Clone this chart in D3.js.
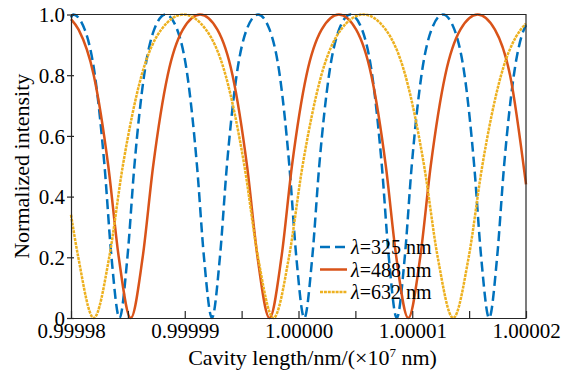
<!DOCTYPE html>
<html>
<head>
<meta charset="utf-8">
<script src="https://cdn.jsdelivr.net/npm/d3@7"></script>
<style>
  body { margin: 0; background: #fff; }
  text { font-family: "Liberation Serif", "Times New Roman", Times, serif; fill: #000; }
</style>
</head>
<body>
<div id="chart"></div>
<script>
// cavity length in nm, normalized intensity
var wavelengths = [325, 488, 632];
var colors = ["#0072BD", "#D95319", "#EDB120"];
var dashes = ["10,5", null, "3,0.9"];

var curve325 = [
  [9999800, 0.99], [9999802, 1], [9999812.1, 0.95], [9999821.0, 0.8], [9999829.5, 0.5], [9999835.6, 0.2], [9999842.6, 0],
  [9999849.6, 0.2], [9999855.7, 0.5], [9999864.3, 0.8], [9999873.1, 0.95], [9999883.2, 1],
  [9999893.4, 0.95], [9999902.3, 0.8], [9999910.8, 0.5], [9999916.9, 0.2], [9999923.9, 0],
  [9999930.9, 0.2], [9999937.0, 0.5], [9999945.6, 0.8], [9999954.4, 0.95], [9999964.5, 1],
  [9999974.6, 0.95], [9999983.5, 0.8], [9999992.0, 0.5], [9999998.1, 0.2], [10000005.1, 0],
  [10000012.1, 0.2], [10000018.2, 0.5], [10000026.8, 0.8], [10000035.6, 0.95], [10000045.7, 1],
  [10000055.9, 0.95], [10000064.8, 0.8], [10000073.3, 0.5], [10000079.4, 0.2], [10000086.4, 0],
  [10000093.4, 0.2], [10000099.5, 0.5], [10000108.1, 0.8], [10000116.9, 0.95], [10000127.0, 1],
  [10000137.1, 0.95], [10000146.0, 0.8], [10000154.5, 0.5], [10000160.6, 0.2], [10000167.6, 0],
  [10000174.6, 0.2], [10000180.7, 0.5], [10000189.3, 0.8], [10000198.1, 0.95], [10000200, 0.965]
];

var curve488 = [
  [9999800, 0.985], [9999806.7, 0.95], [9999820.0, 0.8], [9999832.8, 0.5], [9999842.0, 0.2], [9999852.5, 0],
  [9999863.0, 0.2], [9999872.2, 0.5], [9999885.0, 0.8], [9999898.3, 0.95], [9999913.5, 1],
  [9999928.7, 0.95], [9999942.0, 0.8], [9999954.8, 0.5], [9999964.0, 0.2], [9999974.5, 0],
  [9999985.0, 0.2], [9999994.2, 0.5], [10000007.0, 0.8], [10000020.3, 0.95], [10000035.5, 1],
  [10000050.7, 0.95], [10000064.0, 0.8], [10000076.8, 0.5], [10000086.0, 0.2], [10000096.5, 0],
  [10000107.0, 0.2], [10000116.2, 0.5], [10000129.0, 0.8], [10000142.3, 0.95], [10000157.5, 1],
  [10000172.7, 0.95], [10000186.0, 0.8], [10000200, 0.44]
];

var curve632 = [
  [9999800, 0.34], [9999806.4, 0.2], [9999820.0, 0], [9999833.6, 0.2], [9999845.5, 0.5], [9999862.1, 0.8], [9999879.3, 0.95], [9999899.0, 1],
  [9999918.7, 0.95], [9999935.9, 0.8], [9999952.5, 0.5], [9999964.4, 0.2], [9999978.0, 0],
  [9999991.6, 0.2], [10000003.5, 0.5], [10000020.1, 0.8], [10000037.3, 0.95], [10000057.0, 1],
  [10000076.7, 0.95], [10000093.9, 0.8], [10000110.5, 0.5], [10000122.4, 0.2], [10000136.0, 0],
  [10000149.6, 0.2], [10000161.5, 0.5], [10000178.1, 0.8], [10000195.3, 0.95], [10000200, 0.97]
];

var xTicks = [9999800, 9999900, 10000000, 10000100, 10000200];
var xMinor = [9999850, 9999950, 10000050, 10000150];
var yTicks = [0, 0.2, 0.4, 0.6, 0.8, 1.0];

var curves = [curve325, curve488, curve632];

var margin = {top: 14.5, right: 51, bottom: 56, left: 71},
    W = 577, H = 374,
    w = W - margin.left - margin.right,
    h = H - margin.top - margin.bottom;

var svg = d3.select("#chart").append("svg")
    .attr("width", W)
    .attr("height", H);

var g = svg.append("g")
    .attr("transform", "translate(" + margin.left + "," + margin.top + ")");

var x = d3.scaleLinear().domain([9999800, 10000200]).range([0, w]);
var y = d3.scaleLinear().domain([0, 1]).range([h, 0]);

var line = d3.line()
    .x(function(d){ return x(d[0]); })
    .y(function(d){ return y(d[1]); })
    .curve(d3.curveMonotoneX);

g.selectAll(".curve")
    .data(curves)
    .enter().append("path")
    .attr("class", "curve")
    .attr("d", line)
    .attr("fill", "none")
    .attr("stroke", function(d, i){ return colors[i]; })
    .attr("stroke-width", 2.5)
    .attr("stroke-dasharray", function(d, i){ return dashes[i]; });

// bottom axis, ticks inward
var xAxis = g.append("g")
    .attr("transform", "translate(0," + h + ")")
    .call(d3.axisBottom(x)
        .tickValues(xTicks)
        .tickSizeInner(-7)
        .tickSizeOuter(0)
        .tickPadding(5)
        .tickFormat(function(d){ return (d / 1e7).toFixed(5); }));
xAxis.selectAll("text").style("font-size", "21px");

g.append("g")
    .attr("transform", "translate(0," + h + ")")
    .call(d3.axisBottom(x)
        .tickValues(xMinor)
        .tickSizeInner(-7)
        .tickSizeOuter(0)
        .tickFormat(""))
    .select(".domain").remove();

var yAxis = g.append("g")
    .call(d3.axisLeft(y)
        .tickValues(yTicks)
        .tickSizeInner(4)
        .tickSizeOuter(0)
        .tickPadding(2)
        .tickFormat(function(d){ return d === 0 ? "0" : d.toFixed(1); }));
yAxis.selectAll("text").style("font-size", "21px").attr("dy", "0.34em");
yAxis.selectAll(".tick line").attr("x2", -4).attr("x1", 3);

g.selectAll(".domain").attr("stroke", "#262626").attr("stroke-width", 1.2);
g.selectAll(".tick line").attr("stroke", "#262626").attr("stroke-width", 1.2);

// box
g.append("path")
    .attr("d", "M0,0H" + w + "V" + h)
    .attr("fill", "none")
    .attr("stroke", "#262626")
    .attr("stroke-width", 1.2);

// axis titles
var xl = svg.append("text")
    .attr("x", margin.left + w / 2 + 14)
    .attr("y", 365)
    .attr("text-anchor", "middle")
    .style("font-size", "22px");
xl.append("tspan").text("Cavity length/nm/(×10");
xl.append("tspan").attr("dy", -8).style("font-size", "13px").text("7");
xl.append("tspan").attr("dy", 8).text(" nm)");

svg.append("text")
    .attr("transform", "translate(29," + (margin.top + h / 2) + ") rotate(-90)")
    .attr("text-anchor", "middle")
    .style("font-size", "22px")
    .text("Normalized intensity");

// legend
var legend = svg.append("g").attr("transform", "translate(320,247)");
var rows = legend.selectAll("g")
    .data(wavelengths)
    .enter().append("g")
    .attr("transform", function(d, i){ return "translate(0," + (i * 22.5) + ")"; });

rows.append("line")
    .attr("x1", 0).attr("x2", 27)
    .attr("y1", 0).attr("y2", 0)
    .attr("stroke", function(d, i){ return colors[i]; })
    .attr("stroke-width", 2.5)
    .attr("stroke-dasharray", function(d, i){ return dashes[i]; });

var lt = rows.append("text")
    .attr("x", 31)
    .attr("y", 7)
    .style("font-size", "20px");
lt.append("tspan").style("font-style", "italic").text("λ");
lt.append("tspan").text(function(d){ return "=" + d + " nm"; });
</script>
</body>
</html>
